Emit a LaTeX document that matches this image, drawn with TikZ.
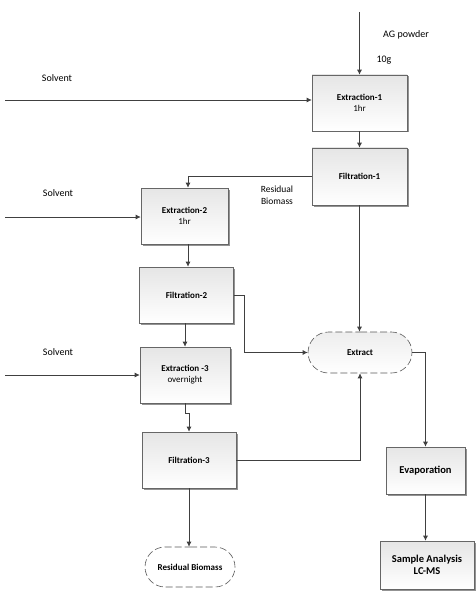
\documentclass[tikz,border=0pt]{standalone}
\usepackage{fontspec}
\setmainfont{Carlito}
\usetikzlibrary{arrows.meta,shadows,shapes.misc,calc}
\begin{document}
\begin{tikzpicture}[x=1pt,y=-1pt,
  boxst/.style={draw=gray!80!black, line width=0.6pt, rectangle, align=center,
    top color=gray!20, bottom color=white,
    drop shadow={shadow xshift=1.5pt, shadow yshift=-1.5pt, fill=gray!85, opacity=1},
    font=\fontsize{9}{11}\selectfont, inner sep=2pt},
  termst/.style={draw=gray!70!black, line width=0.6pt, rounded rectangle, dash pattern=on 7pt off 3pt,
    align=center, font=\fontsize{9}{11}\selectfont\bfseries, inner sep=2pt},
  conn/.style={draw=black!75, line width=0.7pt, -{Latex[length=5pt,width=5pt]}},
  lbl/.style={font=\fontsize{10}{12}\selectfont, align=center, inner sep=0pt}]
\useasboundingbox (0,0) rectangle (475,596);

\node[boxst, minimum width=95pt, minimum height=56pt] (ext1) at (359.5,103) {\textbf{Extraction-1}\\1hr};
\node[boxst, minimum width=95pt, minimum height=57pt] (fil1) at (359.5,176.5) {\textbf{Filtration-1}};
\node[boxst, minimum width=87pt, minimum height=56pt] (ext2) at (184.5,216) {\textbf{Extraction-2}\\1hr};
\node[boxst, minimum width=94pt, minimum height=56pt] (fil2) at (186.5,295) {\textbf{Filtration-2}};
\node[boxst, minimum width=90pt, minimum height=56pt] (ext3) at (185,375) {\textbf{Extraction -3}\\overnight};
\node[boxst, minimum width=94pt, minimum height=56pt] (fil3) at (189,460) {\textbf{Filtration-3}};
\node[termst, fill=white, minimum width=94pt, minimum height=40pt] (resb) at (190,567) {Residual Biomass};
\node[termst, top color=gray!14, bottom color=white, minimum width=108pt, minimum height=41pt] (extr) at (360,352.5) {Extract};
\node[boxst, minimum width=79pt, minimum height=47pt, font=\fontsize{10.5}{12.5}\selectfont\bfseries] (evap) at (425.5,470.5) {Evaporation};
\node[boxst, minimum width=94pt, minimum height=48pt, font=\fontsize{10.5}{12.5}\selectfont\bfseries] (samp) at (427,565) {Sample Analysis\\LC-MS};

\node[lbl] (agp) at (406,35) {AG powder};
\node[lbl] (tg) at (384,60) {10g};
\node[lbl] (sv1) at (57,78) {Solvent};
\node[lbl] (sv2) at (58,193) {Solvent};
\node[lbl] (sv3) at (58,352) {Solvent};
\node[lbl, font=\fontsize{9.5}{12}\selectfont] (rbl) at (277,195) {Residual\\Biomass};

\coordinate (agtop) at (359.5,12);
\coordinate (s1) at (5,100);
\coordinate (s2) at (5,217);
\coordinate (s3) at (5,375);
\coordinate (e2s) at ($(ext2.south)+(3.5,0)$);
\coordinate (e2n) at ($(ext2.north)+(3.5,0)$);
\coordinate (f2s) at ($(fil2.south)+(-1.5,0)$);

\draw[conn] (agtop) -- (ext1.north);
\draw[conn] (s1) -- (s1 -| ext1.west);
\draw[conn] (s2) -- (s2 -| ext2.west);
\draw[conn] (s3) -- (s3 -| ext3.west);
\draw[conn] (ext1.south) -- (fil1.north);
\draw[conn] (fil1.west) -| (e2n);
\draw[conn] (e2s) -- (e2s |- fil2.north);
\draw[conn] (f2s) -- (f2s |- ext3.north);
\draw[conn] (ext3.south) -- ++(0,10) -| (fil3.north);
\draw[conn] (fil3.south) -- (fil3.south |- resb.north);
\draw[conn] (fil1.south) -- (fil1.south |- extr.north);
\draw[conn] (fil2.east) -- ++(11,0) |- (extr.west);
\draw[conn] (fil3.east) -| (extr.south);
\draw[conn] (extr.east) -| (evap.north);
\draw[conn] (evap.south) -- (evap.south |- samp.north);
\end{tikzpicture}
\end{document}
